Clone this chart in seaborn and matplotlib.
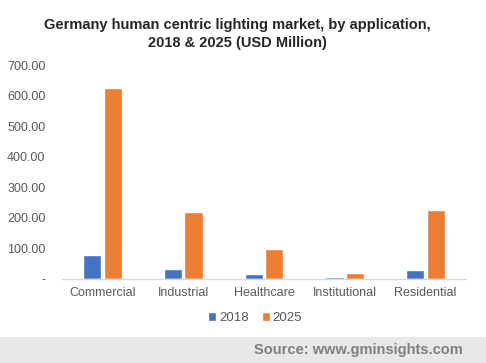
import pandas as pd
import matplotlib.pyplot as plt
import seaborn as sns
from matplotlib.patches import Rectangle

# data
applications = ["Commercial", "Industrial", "Healthcare", "Institutional", "Residential"]
values_2018 = [78, 33, 16, 6.5, 30]
values_2025 = [626, 219, 98, 20, 225]
years = ["2018", "2025"]

df = pd.DataFrame({
    "application": applications * 2,
    "year": [years[0]] * 5 + [years[1]] * 5,
    "value": values_2018 + values_2025,
})

sns.set_style("white")
plt.rcParams["font.family"] = ["Liberation Sans", "DejaVu Sans"]

fig = plt.figure(figsize=(4.86, 3.63), dpi=100)
ax = fig.add_axes([62 / 486, 1 - 279 / 363, 404 / 486, 214 / 363])

sns.barplot(data=df, x="application", y="value", hue="year",
            palette=["#4472C4", "#ED7D31"], width=0.51, gap=0.12,
            saturation=1, ax=ax, legend=True)

ax.set_ylim(0, 700)
ax.set_yticks(range(0, 701, 100))
ax.set_yticklabels(["-"] + [f"{v:.2f}" for v in range(100, 701, 100)])
ax.set_xlabel("")
ax.set_ylabel("")
ax.tick_params(axis="both", length=0, labelsize=9, colors="#595959", pad=6)
ax.tick_params(axis="y", pad=12)
for s in ["top", "right", "left"]:
    ax.spines[s].set_visible(False)
ax.spines["bottom"].set_color("#d9d9d9")
ax.spines["bottom"].set_linewidth(1)

leg = ax.legend(loc="center", bbox_to_anchor=(255 / 486, 1 - 318 / 363),
                bbox_transform=fig.transFigure, ncol=2, frameon=False,
                fontsize=9.5, handlelength=0.6, handleheight=0.6,
                handletextpad=0.2, columnspacing=1.0)
for t in leg.get_texts():
    t.set_color("#595959")

fig.text(0.488, 1 - 34 / 363,
         "Germany human centric lighting market, by application,\n2018 & 2025 (USD Million)",
         ha="center", va="center", fontsize=10.5, fontweight="bold",
         color="#262626", linespacing=1.3)

# source band at the bottom
fig.patches.append(Rectangle((0, 0), 1, 26 / 363, transform=fig.transFigure,
                             facecolor="#e8e8e8", edgecolor="none", zorder=0))
fig.text(463 / 486, 13 / 363, "Source: www.gminsights.com", ha="right",
         va="center", fontsize=10.5, fontweight="bold", color="#7f7f7f")

plt.savefig("out.png", dpi=100)
plt.close()
